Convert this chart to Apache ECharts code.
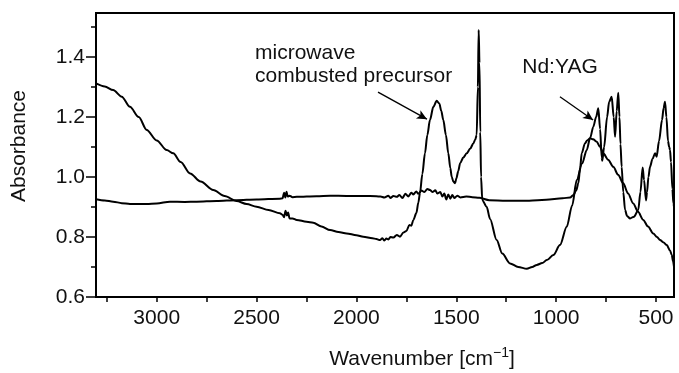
<!DOCTYPE html>
<html>
<head>
<meta charset="utf-8">
<script src="https://cdn.jsdelivr.net/npm/echarts@6/dist/echarts.min.js"></script>
<style>
  html, body { margin: 0; padding: 0; background: #fff; }
  #ftirChart { width: 679px; height: 373px; }
</style>
</head>
<body>
<div id="ftirChart"></div>
<script>
// curve with the sharp bands (starts high on the left)
const wnA = [3304, 3260, 3218, 3175, 3134, 3090, 3050, 3000, 2950, 2917, 2880, 2833, 2780, 2717, 2660, 2600, 2550, 2500, 2440, 2383, 2370, 2362, 2355, 2348, 2342, 2335, 2320, 2299, 2250, 2216, 2175, 2132, 2090, 2049, 2000, 1966, 1920, 1900, 1882, 1870, 1860, 1850, 1840, 1830, 1815, 1798, 1782, 1765, 1750, 1735, 1725, 1715, 1700, 1690, 1682, 1670, 1657, 1645, 1632, 1615, 1598, 1585, 1575, 1565, 1552, 1540, 1530, 1523, 1515, 1506, 1500, 1490, 1481, 1465, 1448, 1430, 1415, 1405, 1398, 1392, 1388, 1384, 1380, 1376, 1370, 1348, 1331, 1298, 1270, 1231, 1190, 1147, 1120, 1097, 1070, 1047, 1014, 981, 947, 920, 897, 870, 847, 830, 814, 800, 789, 780, 772, 769, 760, 745, 735, 722, 712, 705, 697, 689, 683, 678, 672, 664, 655, 645, 630, 610, 589, 578, 567, 560, 550, 545, 538, 530, 518, 505, 497, 485, 470, 462, 455, 448, 440, 434, 430, 425, 418, 413, 410];
const absA = [1.312, 1.302, 1.290, 1.268, 1.234, 1.200, 1.157, 1.122, 1.090, 1.079, 1.050, 1.012, 0.985, 0.957, 0.937, 0.920, 0.910, 0.901, 0.890, 0.879, 0.874, 0.866, 0.888, 0.872, 0.882, 0.862, 0.862, 0.857, 0.851, 0.848, 0.835, 0.823, 0.817, 0.812, 0.806, 0.801, 0.796, 0.793, 0.790, 0.796, 0.788, 0.795, 0.792, 0.800, 0.798, 0.807, 0.801, 0.815, 0.820, 0.840, 0.838, 0.857, 0.880, 0.915, 0.946, 1.010, 1.079, 1.140, 1.190, 1.234, 1.254, 1.245, 1.220, 1.190, 1.140, 1.079, 1.030, 1.001, 0.985, 0.979, 0.995, 1.020, 1.046, 1.065, 1.079, 1.095, 1.112, 1.125, 1.140, 1.300, 1.490, 1.380, 1.150, 1.000, 0.923, 0.901, 0.860, 0.790, 0.745, 0.712, 0.700, 0.694, 0.700, 0.707, 0.713, 0.723, 0.740, 0.773, 0.834, 0.905, 0.990, 1.045, 1.090, 1.130, 1.168, 1.200, 1.229, 1.160, 1.065, 1.054, 1.100, 1.200, 1.250, 1.268, 1.200, 1.134, 1.220, 1.281, 1.200, 1.110, 1.034, 0.950, 0.890, 0.870, 0.862, 0.868, 0.890, 0.950, 1.032, 0.990, 0.922, 0.950, 1.000, 1.034, 1.060, 1.079, 1.068, 1.120, 1.190, 1.230, 1.251, 1.200, 1.120, 1.100, 1.090, 1.050, 0.960, 0.912, 0.901];

// flat curve with the broad band near 830
const wnB = [3304, 3260, 3218, 3175, 3134, 3050, 3000, 2934, 2860, 2800, 2700, 2600, 2500, 2383, 2370, 2362, 2356, 2350, 2344, 2335, 2320, 2299, 2200, 2132, 2050, 1966, 1900, 1880, 1860, 1840, 1830, 1815, 1798, 1785, 1770, 1755, 1740, 1725, 1715, 1700, 1690, 1675, 1660, 1645, 1632, 1620, 1605, 1595, 1580, 1570, 1560, 1550, 1540, 1530, 1520, 1510, 1495, 1480, 1450, 1420, 1385, 1335, 1250, 1135, 1050, 968, 930, 914, 900, 889, 880, 872, 856, 845, 830, 815, 797, 780, 764, 740, 714, 690, 664, 640, 614, 590, 564, 540, 514, 495, 480, 462, 446, 430, 421, 415, 410];
const absB = [0.926, 0.922, 0.918, 0.913, 0.910, 0.910, 0.912, 0.918, 0.917, 0.918, 0.920, 0.923, 0.925, 0.928, 0.929, 0.948, 0.932, 0.951, 0.935, 0.938, 0.933, 0.934, 0.936, 0.938, 0.937, 0.937, 0.936, 0.935, 0.932, 0.938, 0.930, 0.937, 0.934, 0.940, 0.930, 0.944, 0.935, 0.948, 0.942, 0.952, 0.944, 0.955, 0.950, 0.960, 0.957, 0.950, 0.956, 0.945, 0.950, 0.935, 0.945, 0.925, 0.942, 0.928, 0.940, 0.930, 0.938, 0.932, 0.935, 0.933, 0.931, 0.923, 0.921, 0.921, 0.924, 0.929, 0.932, 0.940, 0.955, 0.979, 1.030, 1.079, 1.112, 1.122, 1.129, 1.126, 1.118, 1.100, 1.079, 1.058, 1.034, 1.008, 0.979, 0.945, 0.912, 0.884, 0.857, 0.835, 0.812, 0.800, 0.790, 0.782, 0.773, 0.755, 0.740, 0.720, 0.701];

const xLabels = [500, 1000, 1500, 2000, 2500, 3000];
const xTicks = [500, 750, 1000, 1250, 1500, 1750, 2000, 2250, 2500, 2750, 3000, 3250];
const yMajor = [0.6, 0.8, 1.0, 1.2, 1.4];
const yMinor = [0.7, 0.9, 1.1, 1.3, 1.5];

const font = "'Liberation Sans', Arial, sans-serif";
const ink = "#111";

const zip = (xs, ys) => xs.map((x, i) => [x, ys[i]]);

const ftirChart = echarts.init(document.getElementById("ftirChart"));
ftirChart.setOption({
  animation: false,
  grid: {
    left: 96,
    top: 13,
    right: 5,
    bottom: 76,
    show: true,
    borderColor: "#000",
    borderWidth: 2,
  },
  xAxis: {
    type: "value",
    inverse: true,
    min: 410,
    max: 3304,
    axisLine: { lineStyle: { color: "#000", width: 2 } },
    axisTick: {
      customValues: xTicks,
      length: 5,
      lineStyle: { color: "#000", width: 1.5 },
    },
    axisLabel: {
      customValues: xLabels,
      margin: 11,
      color: ink,
      fontFamily: font,
      fontSize: 21,
      formatter: (v) => String(v),
    },
    splitLine: { show: false },
  },
  yAxis: [
    {
      type: "value",
      min: 0.6,
      max: 1.547,
      axisLine: { show: true, lineStyle: { color: "#000", width: 2 } },
      axisTick: {
        show: true,
        customValues: yMajor,
        length: 10,
        lineStyle: { color: "#000", width: 1.5 },
      },
      axisLabel: {
        customValues: yMajor,
        margin: 11,
        color: ink,
        fontFamily: font,
        fontSize: 21,
        formatter: (v) => v.toFixed(1),
      },
      splitLine: { show: false },
    },
    {
      type: "value",
      position: "left",
      min: 0.6,
      max: 1.547,
      axisLine: { show: false },
      axisTick: {
        show: true,
        customValues: yMinor,
        length: 5,
        lineStyle: { color: "#000", width: 1.5 },
      },
      axisLabel: { show: false },
      splitLine: { show: false },
    },
  ],
  graphic: [
    {
      type: "text",
      x: 19.5,
      y: 146,
      rotation: Math.PI / 2,
      style: {
        text: "Absorbance",
        fill: ink,
        font: "21px " + font,
        align: "center",
        verticalAlign: "middle",
      },
    },
    {
      type: "text",
      x: 422,
      y: 359,
      style: {
        text: "{a|Wavenumber [cm}{s|−1}{a|]}",
        fill: ink,
        align: "center",
        verticalAlign: "middle",
        rich: {
          a: { fontFamily: font, fontSize: 21, lineHeight: 26, fill: ink },
          s: { fontFamily: font, fontSize: 14, lineHeight: 14, verticalAlign: "top", fill: ink },
        },
      },
    },
    {
      type: "text",
      x: 255,
      y: 53.5,
      style: { text: "microwave", fill: ink, font: "21px " + font, verticalAlign: "middle" },
    },
    {
      type: "text",
      x: 255,
      y: 76,
      style: { text: "combusted precursor", fill: ink, font: "21px " + font, verticalAlign: "middle" },
    },
    {
      type: "text",
      x: 560,
      y: 67.7,
      style: { text: "Nd:YAG", fill: ink, font: "21px " + font, align: "center", verticalAlign: "middle" },
    },
  ],
  series: [
    {
      name: "precursor",
      type: "line",
      data: zip(wnA, absA),
      showSymbol: false,
      smooth: 0.3,
      smoothMonotone: "x",
      lineStyle: { color: "#000", width: 2 },
      markLine: {
        silent: true,
        symbol: ["none", "arrow"],
        symbolSize: [7, 10],
        label: { show: false },
        lineStyle: { color: "#000", width: 1.3, type: "solid" },
        data: [
          [{ coord: [1892, 1.283] }, { coord: [1647, 1.193] }],
          [{ coord: [981, 1.268] }, { coord: [815, 1.19] }],
        ],
      },
    },
    {
      name: "Nd:YAG",
      type: "line",
      data: zip(wnB, absB),
      showSymbol: false,
      smooth: 0.3,
      smoothMonotone: "x",
      lineStyle: { color: "#000", width: 2 },
    },
  ],
});
window.addEventListener("resize", () => {
  ftirChart.resize();
});
</script>
</body>
</html>
